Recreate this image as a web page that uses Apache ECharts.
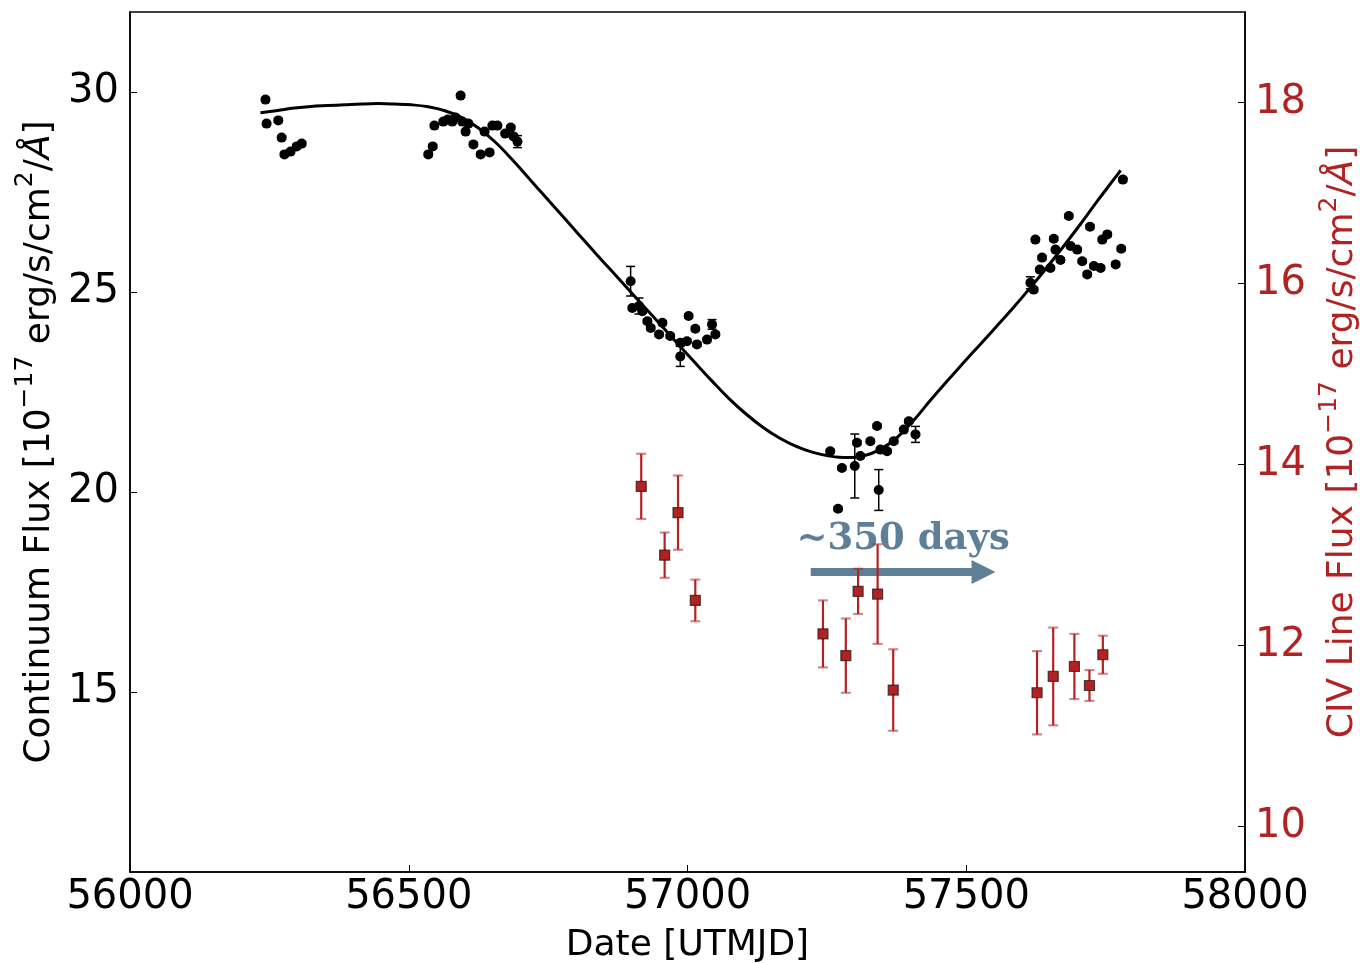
<!DOCTYPE html>
<html><head><meta charset="utf-8">
<script src="https://cdn.jsdelivr.net/npm/echarts@6/dist/echarts.min.js"></script>
<style>html,body{margin:0;padding:0;background:#fff}#c{width:1360px;height:963px}</style>
</head><body><div id="c"></div>
<script>
// ---------- data ----------
const xTicks = [56000, 56500, 57000, 57500, 58000];
const leftTicks = [15, 20, 25, 30];
const rightTicks = [10, 12, 14, 16, 18];

// continuum flux points (MJD, flux, error)
const contX = [56243,56245,56266,56272,56277,56288,56299,56308,
  56535,56543,56546,56562,56570,56578,56584,56593,56596,56602,56607,56616,56629,56636,56645,56650,56659,56673,56683,56688,56695,
  56898,56901,56913,56919,56928,56934,56949,56955,56969,56987,56987,56999,57002,57014,57017,57035,57044,57050,
  57256,57270,57277,57300,57304,57310,57328,57340,57343,57346,57358,57370,57388,57397,57409,
  57615,57621,57624,57632,57636,57651,57657,57660,57669,57684,57687,57699,57708,57717,57722,57729,57741,57744,57753,57768,57778,57781];
const contY = [29.81,29.21,29.29,28.86,28.44,28.51,28.64,28.71,
  28.44,28.64,29.16,29.26,29.31,29.26,29.36,29.91,29.26,29.01,29.21,28.69,28.44,29.01,28.49,29.16,29.16,28.96,29.11,28.89,28.76,
  25.27,24.60,24.65,24.52,24.27,24.10,23.94,24.23,23.90,23.73,23.39,23.77,24.40,24.08,23.69,23.81,24.19,23.94,
  21.02,19.58,20.60,20.65,21.23,20.90,21.27,21.65,20.05,21.06,21.02,21.27,21.56,21.77,21.44,
  25.23,25.06,26.31,25.56,25.86,25.60,26.33,26.06,25.80,26.90,26.15,26.06,25.77,25.44,26.63,25.65,25.60,26.31,26.44,25.69,26.08,27.81];
const contErr = [0.05,0.05,0.05,0.05,0.05,0.05,0.05,0.05,
  0.05,0.05,0.05,0.05,0.05,0.05,0.05,0.05,0.05,0.05,0.05,0.05,0.05,0.05,0.05,0.05,0.05,0.05,0.05,0.05,0.15,
  0.37,0.05,0.2,0.05,0.05,0.05,0.05,0.05,0.05,0.05,0.25,0.05,0.05,0.05,0.05,0.05,0.12,0.05,
  0.05,0.05,0.05,0.8,0.05,0.05,0.05,0.05,0.51,0.05,0.05,0.05,0.05,0.05,0.2,
  0.15,0.05,0.05,0.05,0.05,0.05,0.05,0.05,0.05,0.05,0.05,0.05,0.05,0.05,0.05,0.05,0.05,0.05,0.05,0.05,0.05,0.05];

// CIV line flux points (MJD, flux, error)
const civX = [56917,56959,56983,57014,57243,57284,57306,57341,57369,57627,57656,57694,57721,57745];
const civY = [13.76,13.00,13.47,12.50,12.13,11.89,12.60,12.57,11.51,11.48,11.66,11.77,11.56,11.90];
const civErr = [0.36,0.25,0.41,0.23,0.37,0.41,0.25,0.55,0.45,0.46,0.54,0.36,0.17,0.21];

// fitted continuum curve
const fitX = [56234,56265,56295,56325,56355,56385,56415,56445,56475,56505,56535,56565,56595,56625,56655,56685,56715,56745,56775,56805,56835,56865,56895,56925,56955,56985,57015,57045,57075,57105,57135,57165,57195,57225,57255,57285,57315,57345,57375,57405,57435,57465,57495,57525,57555,57585,57615,57645,57675,57705,57735,57765,57777];
const fitY = [29.48,29.54,29.60,29.64,29.66,29.68,29.70,29.71,29.70,29.68,29.63,29.53,29.36,29.10,28.75,28.32,27.85,27.38,26.91,26.44,25.97,25.51,25.05,24.59,24.13,23.67,23.21,22.76,22.33,21.95,21.62,21.35,21.14,20.99,20.90,20.86,20.90,21.06,21.35,21.78,22.28,22.76,23.23,23.69,24.15,24.62,25.11,25.62,26.15,26.70,27.27,27.82,28.04];

// annotation
const annotText = '~350 days';
const annotAt = [57387, 18.81];
const arrowFrom = [57221, 18.0];
const arrowTo = [57531, 18.0];

// ---------- chart ----------
const RED = '#b22222';
const SLATE = '#5f7f97';
const FONT = 'DejaVu Sans';

function zip3(a, b, c) { return a.map((v, i) => [v, b[i], c[i]]); }

function errRender(capW, lineW, color, capColor) {
  return function (params, api) {
    const x = api.value(0), y = api.value(1), e = api.value(2);
    const t = api.coord([x, y + e]);
    const b = api.coord([x, y - e]);
    const h = capW / 2;
    return {
      type: 'group',
      children: [
        { type: 'line', shape: { x1: t[0], y1: t[1], x2: b[0], y2: b[1] }, style: { stroke: color, lineWidth: lineW } },
        { type: 'line', shape: { x1: t[0] - h, y1: t[1], x2: t[0] + h, y2: t[1] }, style: { stroke: capColor, lineWidth: lineW } },
        { type: 'line', shape: { x1: b[0] - h, y1: b[1], x2: b[0] + h, y2: b[1] }, style: { stroke: capColor, lineWidth: lineW } }
      ]
    };
  };
}

function richName(prefix, color) {
  return {
    text: '{b|' + prefix + ' [10}{s|\u221217}{b| erg/s/cm}{s|2}{b|/}{i|\u00c5}{b|]}',
    rich: {
      b: { fontSize: 36, fontFamily: FONT, color: color, verticalAlign: 'bottom', lineHeight: 44 },
      s: { fontSize: 25, fontFamily: FONT, color: color, verticalAlign: 'top', lineHeight: 30 },
      i: { fontSize: 36, fontFamily: FONT, color: color, fontStyle: 'italic', verticalAlign: 'bottom', lineHeight: 44 }
    }
  };
}

const leftName = richName('Continuum Flux', '#000');
const rightName = richName('CIV Line Flux', RED);

const chart = echarts.init(document.getElementById('c'), null, { renderer: 'canvas' });
chart.setOption({
  animation: false,
  backgroundColor: '#fff',
  grid: { left: 130, right: 115, top: 12, bottom: 91, outerBoundsMode: 'none', containLabel: false,
          show: true, borderColor: '#000', borderWidth: 1.5, backgroundColor: 'transparent' },
  xAxis: {
    type: 'value', min: xTicks[0], max: xTicks[xTicks.length - 1], interval: 500,
    name: 'Date [UTMJD]', nameLocation: 'middle', nameGap: 56,
    nameTextStyle: { fontSize: 36, fontFamily: FONT, color: '#000' },
    axisLine: { show: true, onZero: false, lineStyle: { color: '#000', width: 1.5 } },
    axisTick: { show: true, inside: true, length: 7, lineStyle: { color: '#000', width: 1 } },
    axisLabel: { fontSize: 40, fontFamily: FONT, color: '#000', margin: 6, formatter: v => String(v) },
    splitLine: { show: false }
  },
  yAxis: [{
    type: 'value', position: 'left', min: 10.5, max: 32,
    name: leftName.text, nameLocation: 'middle', nameGap: 72,
    nameTextStyle: { rich: leftName.rich },
    axisLine: { show: true, onZero: false, lineStyle: { color: '#000', width: 1.5 } },
    axisTick: { show: true, inside: true, length: 7, lineStyle: { color: '#000', width: 1 }, customValues: leftTicks },
    axisLabel: { fontSize: 40, fontFamily: FONT, color: '#000', margin: 11, customValues: leftTicks, formatter: v => String(v) },
    splitLine: { show: false }
  }, {
    type: 'value', position: 'right', min: 9.5, max: 19,
    name: rightName.text, nameLocation: 'middle', nameGap: 70,
    nameTextStyle: { rich: rightName.rich },
    axisLine: { show: true, onZero: false, lineStyle: { color: '#000', width: 1.5 } },
    axisTick: { show: true, inside: true, length: 7, lineStyle: { color: '#000', width: 1 }, customValues: rightTicks },
    axisLabel: { fontSize: 40, fontFamily: FONT, color: RED, margin: 10, customValues: rightTicks, formatter: v => String(v) },
    splitLine: { show: false }
  }],
  series: [
    {
      type: 'custom', name: 'contErr', xAxisIndex: 0, yAxisIndex: 0, z: 3,
      data: zip3(contX, contY, contErr), encode: { x: 0, y: 1 },
      renderItem: errRender(9, 1.5, '#000', '#000'), silent: true
    },
    {
      type: 'scatter', name: 'Continuum', xAxisIndex: 0, yAxisIndex: 0, z: 4,
      data: contX.map((x, i) => [x, contY[i]]),
      symbol: 'circle', symbolSize: 10, itemStyle: { color: '#000', opacity: 1 }
    },
    {
      type: 'line', name: 'Fit', xAxisIndex: 0, yAxisIndex: 0, z: 5,
      data: fitX.map((x, i) => [x, fitY[i]]),
      showSymbol: false, smooth: 0.4,
      lineStyle: { color: '#000', width: 3 },
      markLine: {
        silent: true, z: 6,
        symbol: ['none', 'triangle'], symbolSize: [24, 24],
        lineStyle: { color: SLATE, width: 8, type: 'solid', opacity: 1 },
        itemStyle: { color: SLATE },
        label: { show: false },
        data: [[{ coord: arrowFrom }, { coord: arrowTo }]]
      },
      markPoint: {
        silent: true, z: 7,
        symbol: 'circle', symbolSize: 1, itemStyle: { color: 'rgba(0,0,0,0)' },
        label: {
          show: true, position: 'inside', formatter: annotText,
          fontFamily: 'DejaVu Serif', fontWeight: 'bold', fontSize: 37, color: SLATE
        },
        data: [{ coord: annotAt }]
      }
    },
    {
      type: 'custom', name: 'civErr', xAxisIndex: 0, yAxisIndex: 1, z: 8,
      data: zip3(civX, civY, civErr), encode: { x: 0, y: 1 },
      renderItem: errRender(10, 2.2, RED, 'rgba(178,34,34,0.55)'), silent: true
    },
    {
      type: 'scatter', name: 'CIV', xAxisIndex: 0, yAxisIndex: 1, z: 9,
      data: civX.map((x, i) => [x, civY[i]]),
      symbol: 'rect', symbolSize: 10,
      itemStyle: { color: RED, opacity: 1, borderColor: 'rgba(40,20,20,0.75)', borderWidth: 1.2 }
    }
  ]
});
</script></body></html>
